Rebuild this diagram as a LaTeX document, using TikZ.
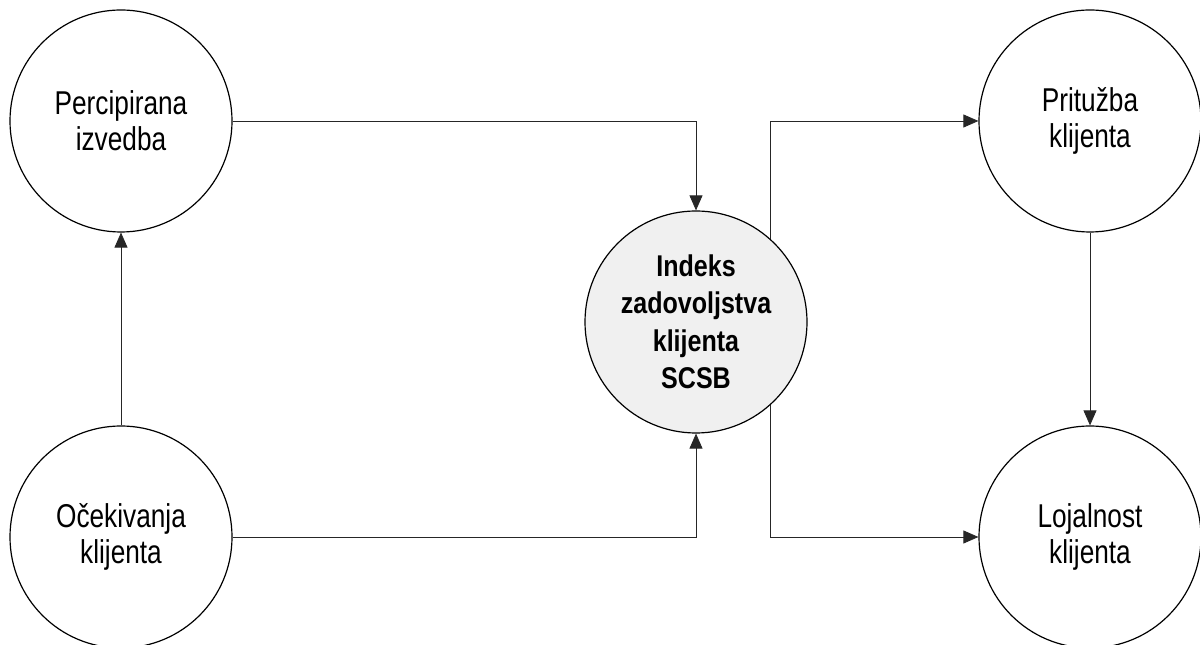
\documentclass[tikz,border=0pt]{standalone}
\usepackage{fontspec}
\newfontfamily\diafont[FakeStretch=0.795]{Liberation Sans}
\newfontfamily\diabold[FakeStretch=0.835]{Liberation Sans}
\usetikzlibrary{arrows.meta}
\definecolor{lightfill}{HTML}{F0F0F0}
\tikzset{
  bubble/.style={circle, draw=black, line width=1.2pt, minimum size=222pt, inner sep=0pt, align=center,
    font={\diafont\fontsize{33}{36}\selectfont}},
  centerbubble/.style={bubble, fill=lightfill, font={\diabold\bfseries\fontsize{30}{37.5}\selectfont}},
  link/.style={draw=black!85, line width=0.8pt, -{Triangle[length=15pt,width=13pt]}}
}
\begin{document}
\begin{tikzpicture}[x=1pt,y=1pt]
\useasboundingbox (0,0) rectangle (1200,645);
\node[bubble] (perc) at (121,524) {Percipirana\\izvedba};
\node[bubble] (ocek) at (121,108) {Očekivanja\\klijenta};
\node[centerbubble] (idx) at (696,323) {Indeks\\zadovoljstva\\klijenta\\SCSB};
\node[bubble] (prit) at (1090,524) {Pritužba\\klijenta};
\node[bubble] (loj) at (1090,108) {Lojalnost\\klijenta};
\draw[link] (perc.east) -| (idx.north);
\draw[link] (ocek.east) -| (idx.south);
\draw[link] (ocek.north) -- (perc.south);
\draw[link] (idx.48) |- (prit.west);
\draw[link] (idx.-48) |- (loj.west);
\draw[link] (prit.south) -- (loj.north);
\end{tikzpicture}
\end{document}
